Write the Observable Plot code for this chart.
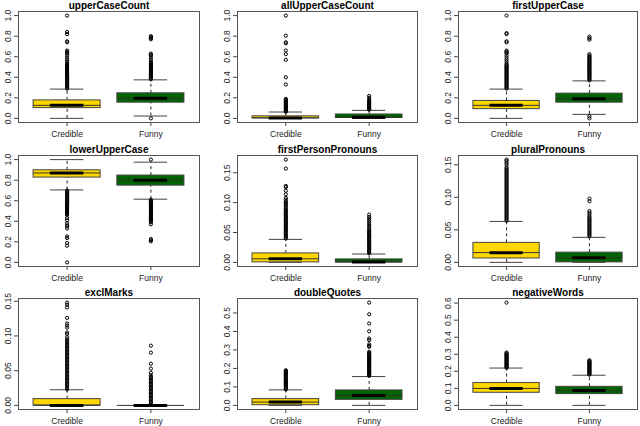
<!DOCTYPE html>
<html><head><meta charset="utf-8">
<script src="https://cdn.jsdelivr.net/npm/d3@7"></script>
<script src="https://cdn.jsdelivr.net/npm/@observablehq/plot@0.6"></script>
<style>
body{margin:0;background:#fff;}
#chart{position:relative;width:640px;height:426px;overflow:hidden;background:#fff;}
#chart svg{position:absolute;}
</style></head><body><div id="chart"></div>
<script>
const groups = ["Credible", "Funny"];
const groupColors = ["#FFD700", "#006400"];
const titles = ["upperCaseCount", "allUpperCaseCount", "firstUpperCase",
  "lowerUpperCase", "firstPersonPronouns", "pluralPronouns",
  "exclMarks", "doubleQuotes", "negativeWords"];
const yTicks = [
  [0, 0.2, 0.4, 0.6, 0.8, 1.0], [0, 0.2, 0.4, 0.6, 0.8, 1.0], [0, 0.2, 0.4, 0.6, 0.8, 1.0],
  [0, 0.2, 0.4, 0.6, 0.8, 1.0], [0, 0.05, 0.10, 0.15], [0, 0.05, 0.10, 0.15],
  [0, 0.05, 0.10, 0.15], [0, 0.1, 0.2, 0.3, 0.4, 0.5], [0, 0.1, 0.2, 0.3, 0.4, 0.5, 0.6]];
const tickDigits = [1, 1, 1, 1, 2, 2, 2, 1, 1];

// [Credible, Funny] per panel
const whiskerLow = [[0, 0.023], [0, 0], [0, 0.039], [0.705, 0.615], [0, 0], [0, 0], [0, 0], [0, 0], [0, 0]];
const quartile1 = [[0.10, 0.153], [0, 0.004], [0.09, 0.153], [0.825, 0.747], [0, 0], [0.006, 0], [0, 0], [0.001, 0.030], [0.074, 0.066]];
const medians = [[0.127, 0.195], [0.005, 0.01], [0.127, 0.192], [0.87, 0.80], [0.006, 0.0005], [0.015, 0.007], [0, 0], [0.018, 0.054], [0.0996, 0.088]];
const quartile3 = [[0.175, 0.244], [0.02, 0.038], [0.17, 0.241], [0.896, 0.845], [0.015, 0.005], [0.030, 0.015], [0.009, 0], [0.034, 0.081], [0.131, 0.109]];
const whiskerHigh = [[0.285, 0.375], [0.062, 0.078], [0.285, 0.365], [1.0, 0.975], [0.0385, 0.014], [0.063, 0.0385], [0.0225, 0], [0.084, 0.156], [0.219, 0.177]];

const outliersCredible = [
  [0.29,0.30,0.31,0.32,0.33,0.34,0.35,0.36,0.37,0.38,0.39,0.40,0.41,0.42,0.43,0.44,0.45,0.46,0.47,0.48,0.49,0.50,0.51,0.52,0.53,0.55,0.57,0.59,0.61,0.63,0.64,0.65,0.66,0.74,0.75,0.82,0.84,1.0],
  [0.065,0.07,0.08,0.09,0.10,0.11,0.12,0.13,0.14,0.15,0.16,0.17,0.18,0.19,0.33,0.40,0.57,0.625,0.66,0.73,0.74,0.805,1.0],
  [0.29,0.30,0.31,0.32,0.33,0.34,0.35,0.36,0.37,0.38,0.39,0.40,0.41,0.42,0.43,0.44,0.45,0.46,0.47,0.48,0.49,0.50,0.51,0.52,0.53,0.55,0.57,0.59,0.61,0.63,0.64,0.65,0.66,0.74,0.75,0.82,0.83,1.0],
  [0.70,0.69,0.68,0.67,0.66,0.65,0.64,0.63,0.62,0.61,0.60,0.59,0.58,0.57,0.56,0.55,0.54,0.53,0.52,0.51,0.50,0.49,0.48,0.47,0.46,0.43,0.41,0.38,0.36,0.35,0.33,0.253,0.237,0.188,0.162,0.0],
  [0.040,0.042,0.044,0.046,0.048,0.050,0.052,0.054,0.056,0.058,0.060,0.062,0.064,0.066,0.068,0.070,0.072,0.074,0.076,0.078,0.080,0.082,0.084,0.086,0.088,0.090,0.093,0.096,0.098,0.100,0.102,0.105,0.108,0.114,0.120,0.126,0.128,0.157,0.172],
  [0.064,0.066,0.068,0.070,0.072,0.074,0.076,0.078,0.080,0.082,0.084,0.086,0.088,0.090,0.092,0.094,0.096,0.098,0.100,0.102,0.104,0.106,0.108,0.110,0.112,0.114,0.116,0.118,0.120,0.122,0.124,0.126,0.128,0.130,0.132,0.134,0.136,0.138,0.140,0.142,0.144,0.146,0.150,0.153,0.156,0.158],
  [0.023,0.025,0.027,0.029,0.031,0.033,0.035,0.037,0.039,0.041,0.043,0.045,0.047,0.049,0.051,0.053,0.055,0.057,0.059,0.061,0.063,0.065,0.067,0.069,0.071,0.073,0.075,0.077,0.079,0.081,0.083,0.085,0.087,0.089,0.091,0.093,0.095,0.098,0.1026,0.105,0.112,0.115,0.118,0.126,0.141,0.145,0.148],
  [0.086,0.091,0.096,0.101,0.106,0.111,0.116,0.121,0.126,0.131,0.136,0.141,0.146,0.151,0.156,0.161,0.166,0.171,0.176,0.181,0.186,0.19],
  [0.22,0.225,0.23,0.235,0.24,0.245,0.25,0.255,0.26,0.265,0.27,0.275,0.28,0.285,0.29,0.295,0.30,0.305,0.31,0.603]];
const outliersFunny = [
  [0.0,0.38,0.39,0.40,0.41,0.42,0.43,0.44,0.45,0.46,0.47,0.48,0.49,0.50,0.51,0.52,0.53,0.54,0.55,0.57,0.59,0.61,0.62,0.63,0.77,0.78,0.79,0.80],
  [0.085,0.09,0.10,0.11,0.12,0.13,0.14,0.15,0.16,0.17,0.18,0.20,0.218],
  [0.0,0.02,0.37,0.38,0.39,0.40,0.41,0.42,0.43,0.44,0.45,0.46,0.47,0.48,0.49,0.50,0.51,0.52,0.53,0.54,0.55,0.56,0.57,0.58,0.59,0.60,0.61,0.625,0.765,0.78,0.795],
  [1.0,0.61,0.60,0.59,0.58,0.57,0.56,0.55,0.54,0.53,0.52,0.51,0.50,0.49,0.48,0.47,0.46,0.45,0.44,0.43,0.42,0.41,0.40,0.39,0.37,0.227,0.215,0.205],
  [0.015,0.017,0.019,0.021,0.023,0.025,0.027,0.029,0.031,0.033,0.035,0.037,0.039,0.041,0.043,0.045,0.047,0.049,0.051,0.053,0.055,0.058,0.061,0.064,0.067,0.070,0.073,0.076,0.080],
  [0.040,0.042,0.044,0.046,0.048,0.050,0.052,0.054,0.056,0.058,0.060,0.062,0.064,0.066,0.068,0.070,0.073,0.076,0.079,0.094,0.098],
  [0.001,0.003,0.005,0.007,0.009,0.011,0.013,0.015,0.017,0.019,0.021,0.023,0.025,0.027,0.029,0.031,0.033,0.035,0.037,0.039,0.041,0.043,0.047,0.053,0.060,0.076,0.086],
  [0.16,0.165,0.17,0.175,0.18,0.185,0.19,0.195,0.20,0.205,0.21,0.215,0.22,0.225,0.23,0.235,0.24,0.245,0.25,0.255,0.26,0.265,0.27,0.275,0.28,0.285,0.29,0.317,0.322,0.33,0.353,0.362,0.401,0.443,0.493,0.556],
  [0.18,0.185,0.19,0.195,0.20,0.205,0.21,0.215,0.22,0.225,0.23,0.235,0.24,0.245,0.25,0.255,0.26,0.265]];

// layout of panel frames (pixels)
const frameLefts = [18, 237, 458];
const frameWidths = [181, 180, 179];
const frameTops = [11, 155, 298];
const frameHeight = 111;
const mLeft = 18, mRight = 3, mTop = 11, mBottom = 20;

const chart = document.getElementById("chart");

titles.forEach((title, i) => {
  const col = i % 3, row = Math.floor(i / 3);
  const boxes = groups.map((g, k) => ({
    group: g, x: k + 1,
    lo: whiskerLow[i][k], q1: quartile1[i][k], med: medians[i][k],
    q3: quartile3[i][k], hi: whiskerHigh[i][k]
  }));
  const outs = [];
  outliersCredible[i].forEach(v => outs.push({x: 1, y: v}));
  outliersFunny[i].forEach(v => outs.push({x: 2, y: v}));
  const allVals = boxes.flatMap(b => [b.lo, b.hi]).concat(outs.map(o => o.y));
  const [mn, mx] = d3.extent(allVals);
  const pad = 0.04 * (mx - mn);
  const fmt = d3.format("." + tickDigits[i] + "f");

  const svg = Plot.plot({
    width: mLeft + frameWidths[col] + mRight,
    height: mTop + frameHeight + mBottom,
    marginLeft: mLeft, marginRight: mRight, marginTop: mTop, marginBottom: mBottom,
    style: {fontFamily: "'Liberation Sans', Arial, sans-serif", fontSize: "8.5px", background: "transparent", overflow: "visible", color: "#222"},
    x: {type: "linear", domain: [0.42, 2.58]},
    y: {domain: [mn - pad, mx + pad]},
    color: {domain: groups, range: groupColors},
    marks: [
      Plot.ruleX(boxes, {x: "x", y1: "q3", y2: "hi", stroke: "#222", strokeDasharray: "3,3"}),
      Plot.ruleX(boxes, {x: "x", y1: "lo", y2: "q1", stroke: "#222", strokeDasharray: "3,3"}),
      Plot.ruleY(boxes, {y: "hi", x1: d => d.x - 0.2, x2: d => d.x + 0.2, stroke: "#444"}),
      Plot.ruleY(boxes, {y: "lo", x1: d => d.x - 0.2, x2: d => d.x + 0.2, stroke: "#444"}),
      Plot.rect(boxes, {x1: d => d.x - 0.4, x2: d => d.x + 0.4, y1: "q1", y2: "q3", fill: "group", stroke: "#444"}),
      Plot.ruleY(boxes, {y: "med", x1: d => d.x - 0.4, x2: d => d.x + 0.4, stroke: "#333"}),
      Plot.ruleY(boxes, {y: "med", x1: d => d.x - 0.2, x2: d => d.x + 0.2, stroke: "#000", strokeWidth: 3}),
      Plot.dot(outs, {x: "x", y: "y", r: 1.6, stroke: "#000", strokeWidth: 1, fill: "none"}),
      Plot.frame({stroke: "#555"}),
      Plot.axisY(yTicks[i], {tickFormat: fmt, tickRotate: -90, tickSize: 4, tickPadding: 4, label: null, stroke: "#444"}),
      Plot.axisX([1, 2], {tickFormat: d => groups[d - 1], tickSize: 4, tickPadding: 4, label: null, stroke: "#444"}),
      Plot.text([title], {frameAnchor: "top", dy: -10, fontWeight: "bold", fontSize: 10, fill: "#000"})
    ]
  });
  svg.style.left = (frameLefts[col] - mLeft) + "px";
  svg.style.top = (frameTops[row] - mTop) + "px";
  chart.appendChild(svg);
});
</script></body></html>
